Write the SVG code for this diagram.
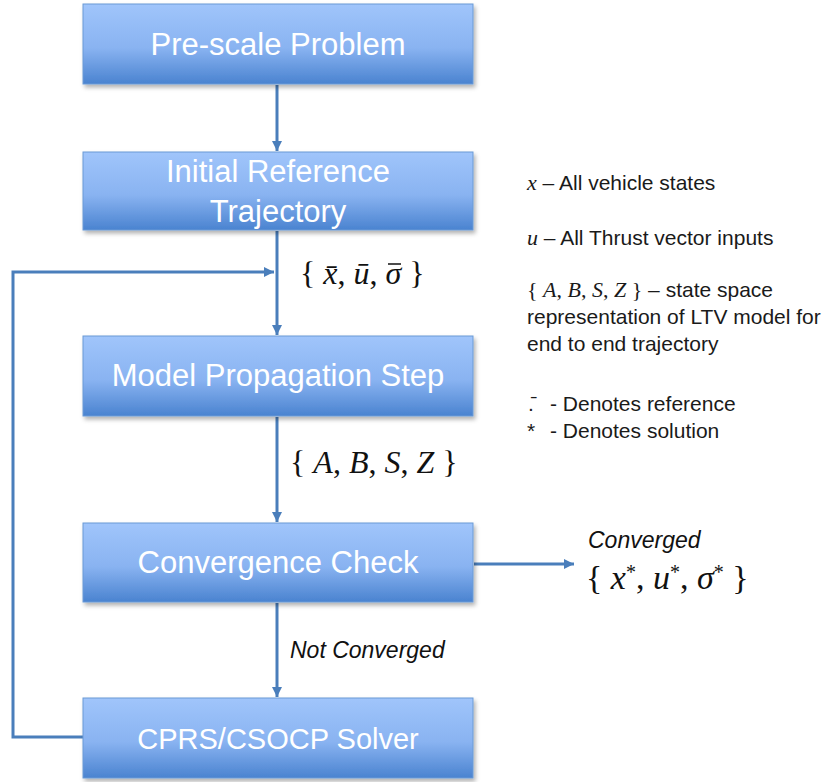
<svg xmlns="http://www.w3.org/2000/svg" width="827" height="782" viewBox="0 0 827 782">
<defs>
<linearGradient id="boxGrad" x1="0" y1="0" x2="0" y2="1">
<stop offset="0" stop-color="#a0c5fb"/>
<stop offset="0.55" stop-color="#89b3f1"/>
<stop offset="1" stop-color="#4a83d0"/>
</linearGradient>
<filter id="shadow" x="-5%" y="-10%" width="115%" height="130%">
<feDropShadow dx="2" dy="3" stdDeviation="2" flood-color="#000" flood-opacity="0.3"/>
</filter>
<marker id="arrow" markerUnits="userSpaceOnUse" viewBox="0 0 10 10" markerWidth="11" markerHeight="10" refX="10" refY="5" orient="auto">
<path d="M0,0 L10,5 L0,10 z" fill="#4a7ebb"/>
</marker>
</defs>
<style>
.box{fill:url(#boxGrad);stroke:#6a9ad6;stroke-width:1;filter:url(#shadow)}
.lbl{font-family:"Liberation Sans",Arial,sans-serif;font-size:31px;fill:#ffffff;text-anchor:middle}
.conn{fill:none;stroke:#4a7ebb;stroke-width:3}
.math{font-family:"Liberation Serif","DejaVu Serif",serif;font-size:32px;fill:#111}
.mi{font-style:italic}
.bar{stroke:#111;stroke-width:1.5}
.note{font-family:"Liberation Sans",Arial,sans-serif;font-size:21px;fill:#1a1a1a}
.snote{font-family:"Liberation Serif","DejaVu Serif",serif;font-size:22px;fill:#1a1a1a}
.it{font-family:"Liberation Sans",Arial,sans-serif;font-size:23px;font-style:italic;fill:#111}
</style>
<rect width="827" height="782" fill="#ffffff"/>

<g id="connectors">
<line class="conn" x1="277" y1="85" x2="277" y2="151" marker-end="url(#arrow)"/>
<line class="conn" x1="277" y1="231" x2="277" y2="335" marker-end="url(#arrow)"/>
<line class="conn" x1="277" y1="417" x2="277" y2="522" marker-end="url(#arrow)"/>
<line class="conn" x1="277" y1="603" x2="277" y2="697" marker-end="url(#arrow)"/>
<polyline class="conn" points="83,737 13,737 13,272 274,272" marker-end="url(#arrow)"/>
<line class="conn" x1="474" y1="564" x2="574" y2="564" marker-end="url(#arrow)"/>
</g>

<g id="n1">
<rect class="box" x="83" y="4" width="390" height="80"/>
<text class="lbl" x="278" y="55">Pre-scale Problem</text>
</g>
<g id="n2">
<rect class="box" x="83" y="152" width="390" height="78"/>
<text class="lbl" x="278" y="182">Initial Reference</text>
<text class="lbl" x="278" y="222">Trajectory</text>
</g>
<g id="n3">
<rect class="box" x="83" y="336" width="390" height="80"/>
<text class="lbl" x="278" y="386">Model Propagation Step</text>
</g>
<g id="n4">
<rect class="box" x="83" y="523" width="390" height="79"/>
<text class="lbl" x="278" y="573">Convergence Check</text>
</g>
<g id="n5">
<rect class="box" x="83" y="698" width="390" height="80"/>
<text class="lbl" x="278" y="749" style="font-size:29px">CPRS/CSOCP Solver</text>
</g>

<g id="labels">
<text class="math" x="300" y="284">{ <tspan class="mi">x̄</tspan>, <tspan class="mi">ū</tspan>, <tspan class="mi">σ</tspan> }</text>
<line class="bar" x1="388" y1="264" x2="401" y2="264"/>
<text class="math" x="290" y="473">{ <tspan class="mi">A</tspan>, <tspan class="mi">B</tspan>, <tspan class="mi">S</tspan>, <tspan class="mi">Z</tspan> }</text>
<text class="it" x="588" y="548">Converged</text>
<text class="math" x="586" y="589" style="font-size:34px">{ <tspan class="mi">x</tspan><tspan font-size="20" dy="-10">*</tspan><tspan dy="10">, </tspan><tspan class="mi">u</tspan><tspan font-size="20" dy="-10">*</tspan><tspan dy="10">, </tspan><tspan class="mi">σ</tspan><tspan font-size="20" dy="-10">*</tspan><tspan dy="10"> }</tspan></text>
<text class="it" x="290" y="658">Not Converged</text>
</g>

<g id="legend">
<text x="527" y="190"><tspan class="snote mi">x</tspan><tspan class="note"> – All vehicle states</tspan></text>
<text x="527" y="245"><tspan class="snote mi">u</tspan><tspan class="note"> – All Thrust vector inputs</tspan></text>
<text x="527" y="297"><tspan class="snote">{ </tspan><tspan class="snote mi">A</tspan><tspan class="snote">, </tspan><tspan class="snote mi">B</tspan><tspan class="snote">, </tspan><tspan class="snote mi">S</tspan><tspan class="snote">, </tspan><tspan class="snote mi">Z</tspan><tspan class="snote"> }</tspan><tspan class="note"> – state space</tspan></text>
<text class="note" x="527" y="324">representation of LTV model for</text>
<text class="note" x="527" y="351">end to end trajectory</text>
<text class="note" y="411"><tspan x="528">.̄</tspan><tspan x="550">- Denotes reference</tspan></text>
<text class="note" y="438"><tspan x="527">*</tspan><tspan x="550">- Denotes solution</tspan></text>
</g>
</svg>
